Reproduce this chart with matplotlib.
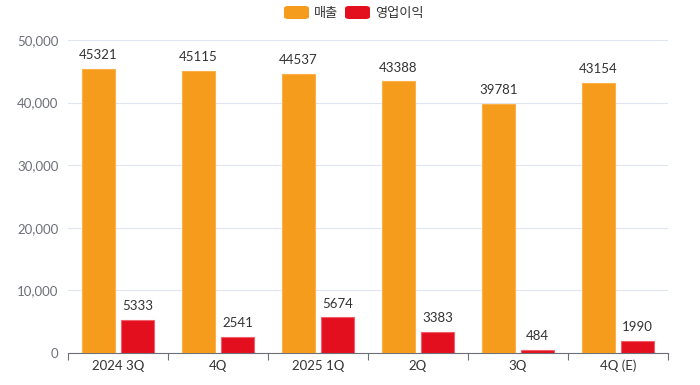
import matplotlib
matplotlib.use("Agg")
import matplotlib.pyplot as plt
import numpy as np
from matplotlib.patches import FancyBboxPatch

categories = ["2024 3Q", "4Q", "2025 1Q", "2Q", "3Q", "4Q (E)"]
sales = [45321, 45115, 44537, 43388, 39781, 43154]
op_profit = [5333, 2541, 5674, 3383, 484, 1990]
series_names = ["매출", "영업이익"]
yticks = [0, 10000, 20000, 30000, 40000, 50000]

plt.rcParams['font.family'] = ['Lato', 'Noto Sans CJK KR', 'DejaVu Sans']

fig = plt.figure(figsize=(7, 3.85), dpi=100)
ax = fig.add_axes([68/700, 32/385, 600/700, 313/385])

orange = "#F69C1C"
red = "#E30F1E"
x = np.arange(len(categories))
w = 0.33
ax.bar(x - 0.195, sales, width=w, color=orange, edgecolor="#FBB04A", linewidth=0.8, zorder=3)
ax.bar(x + 0.195, op_profit, width=w, color=red, edgecolor="#F0606A", linewidth=0.8, zorder=3)

for xi, v in zip(x, sales):
    ax.text(xi - 0.195, v + 1250, str(v), ha="center", va="bottom", fontsize=9.5, color="#333333")
for xi, v in zip(x, op_profit):
    ax.text(xi + 0.195, v + 1250, str(v), ha="center", va="bottom", fontsize=9.5, color="#333333")

ax.set_xlim(-0.5, len(categories) - 0.5)
ax.set_ylim(0, 50000)
ax.set_yticks(yticks)
ax.set_yticklabels([f"{t:,}" for t in yticks], fontsize=9.5, color="#6E7079")
ax.yaxis.grid(True, color="#E0E6F1", linewidth=0.8, zorder=0)
ax.tick_params(axis="y", length=0, pad=7)

ax.set_xticks(x)
ax.set_xticklabels(categories, fontsize=9.5, color="#333333")
ax.tick_params(axis="x", length=0, pad=5)
ax.set_xticks(np.arange(-0.5, len(categories)), minor=True)
ax.tick_params(axis="x", which="minor", length=5, color="#6E7079", width=0.8)

for s in ["top", "right", "left"]:
    ax.spines[s].set_visible(False)
ax.spines["bottom"].set_color("#6E7079")
ax.spines["bottom"].set_linewidth(0.8)

# legend
def leg_item(x0, color, label):
    p = FancyBboxPatch((x0/700, (385-19)/385), 25/700, 13/385,
                       boxstyle="round,pad=0,rounding_size=0.006",
                       transform=fig.transFigure, facecolor=color, edgecolor="none")
    fig.patches.append(p)
    fig.text((x0 + 30)/700, (385-12.5)/385, label, fontsize=9.5, color="#333333",
             va="center", ha="left")

leg_item(284, orange, series_names[0])
leg_item(345, red, series_names[1])

fig.savefig("out.png", dpi=100)
